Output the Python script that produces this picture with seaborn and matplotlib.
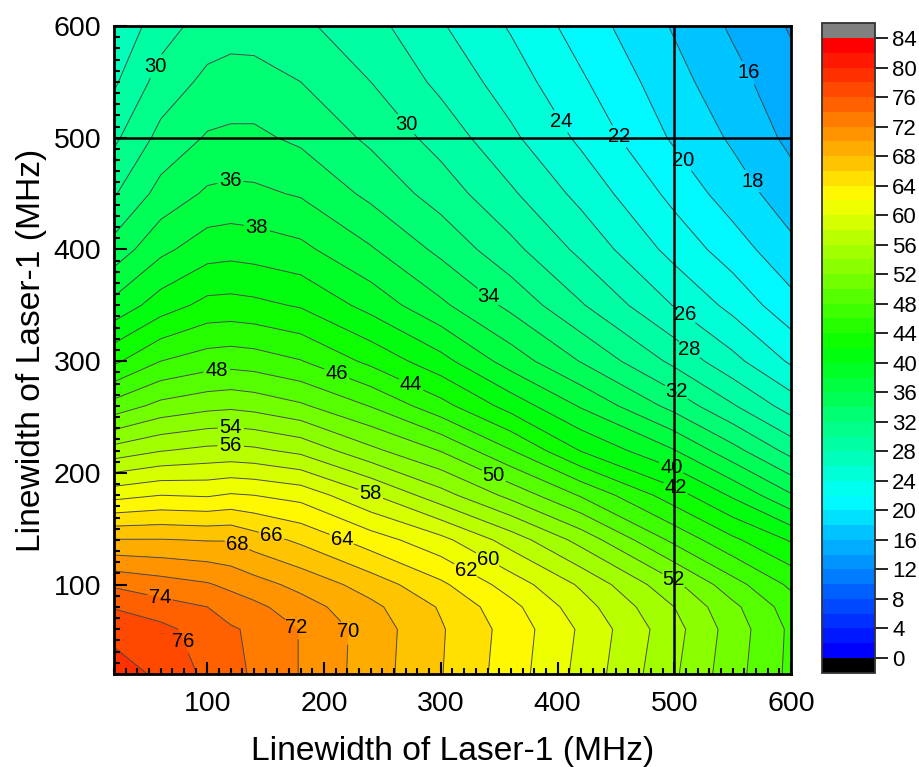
import numpy as np
import matplotlib
matplotlib.use("Agg")
import matplotlib.pyplot as plt
from matplotlib.colors import ListedColormap, BoundaryNorm
from matplotlib.ticker import MultipleLocator
import seaborn as sns

# linewidths (MHz)
x_mhz = [20, 60, 100, 120, 140, 180, 240, 300, 360, 420, 500, 550, 600]
y_mhz = [20, 60, 80, 100, 140, 180, 220, 260, 300, 350, 400, 450, 500, 550, 600]

# one row per y_mhz value
row_020 = [79.5, 77.4, 75.6, 74.7, 73.7, 71.9, 69.0, 66.1, 63.0, 59.4, 54.3, 50.8, 47.5]
row_060 = [77.0, 76.6, 75.0, 74.2, 73.7, 71.9, 69.1, 66.2, 63.2, 59.7, 54.7, 51.1, 47.6]
row_080 = [75.9, 74.8, 74.0, 73.2, 72.5, 70.9, 68.5, 65.8, 62.6, 58.9, 54.0, 50.5, 47.0]
row_100 = [73.7, 72.9, 72.2, 71.5, 70.8, 69.4, 67.1, 64.4, 61.1, 57.7, 52.5, 48.8, 45.6]
row_140 = [68.1, 68.1, 67.9, 67.9, 67.0, 65.6, 63.0, 60.6, 57.1, 53.3, 47.5, 44.4, 41.8]
row_180 = [61.3, 62.0, 61.8, 62.2, 62.0, 61.3, 58.2, 54.8, 51.4, 47.8, 42.9, 39.7, 36.2]
row_220 = [54.8, 55.9, 56.5, 56.6, 56.4, 55.5, 52.5, 49.9, 46.1, 41.9, 38.1, 34.7, 31.3]
row_260 = [48.8, 50.6, 51.4, 51.6, 51.3, 50.3, 47.9, 44.7, 41.2, 37.8, 33.3, 30.2, 27.1]
row_300 = [43.6, 46.0, 47.0, 47.2, 47.0, 46.1, 43.5, 40.7, 37.1, 33.9, 29.5, 26.6, 23.7]
row_350 = [38.6, 41.0, 42.6, 42.7, 42.5, 41.8, 39.3, 36.4, 33.5, 30.2, 25.9, 23.4, 20.7]
row_400 = [34.8, 37.5, 39.1, 39.3, 39.1, 38.5, 36.2, 33.5, 30.6, 27.5, 23.3, 21.0, 18.5]
row_450 = [31.8, 34.7, 36.3, 36.5, 36.4, 35.8, 33.5, 31.1, 28.3, 25.4, 21.4, 19.0, 16.9]
row_500 = [29.6, 32.6, 34.2, 34.4, 34.4, 33.6, 31.6, 29.2, 26.4, 23.6, 19.7, 17.7, 15.5]
row_550 = [27.7, 30.8, 32.5, 32.8, 32.8, 32.0, 30.0, 27.5, 25.0, 22.3, 18.7, 16.7, 14.7]
row_600 = [26.3, 29.1, 30.9, 31.2, 31.1, 30.4, 28.7, 26.2, 23.8, 21.1, 17.8, 15.7, 13.8]

# where the contour labels sit: level -> (x, y) in MHz
label_spots = {
    16: [(569, 561)], 18: [(565, 460)], 20: [(508, 480)], 22: [(451, 500)],
    24: [(400, 513)], 26: [(508, 340)], 28: [(512, 309)],
    30: [(56, 564), (269, 511)], 32: [(501, 271)], 34: [(340, 357)],
    36: [(120, 460)], 38: [(142, 418)], 40: [(500, 212)], 42: [(501, 186)],
    44: [(275, 280)], 46: [(211, 289)], 48: [(108, 291)], 50: [(346, 199)],
    52: [(501, 107)], 54: [(120, 240)], 56: [(120, 225)], 58: [(240, 182)],
    60: [(342, 126)], 62: [(322, 114)], 64: [(216, 143)], 66: [(155, 144)],
    68: [(125, 135)], 70: [(220, 58)], 72: [(173, 58)], 74: [(60, 92)],
    76: [(81, 50)],
}
line_at = 500
axis_label = "Linewidth of Laser-1 (MHz)"

sns.set_theme(style="ticks")
plt.rcParams["font.family"] = ["Liberation Sans", "DejaVu Sans"]

z = np.array([row_020, row_060, row_080, row_100, row_140, row_180, row_220, row_260,
              row_300, row_350, row_400, row_450, row_500, row_550, row_600])
levels = np.arange(0, 86, 2)

colors = sns.blend_palette(["#0000ff", "#00ffff", "#00ff00", "#ffff00", "#ff0000"], n_colors=42)
cmap = ListedColormap(colors)
cmap.set_under("#000000")
cmap.set_over("#808080")
norm = BoundaryNorm(levels, cmap.N)

W, H = 920, 767
fig = plt.figure(figsize=(W / 100, H / 100), dpi=100)
ax = fig.add_axes([114 / W, 1 - 674 / H, (791 - 114) / W, (674 - 26) / H])
cax = fig.add_axes([822 / W, 1 - 673 / H, (875 - 822) / W, (673 - 23) / H])

filled = ax.contourf(x_mhz, y_mhz, z, levels=levels, cmap=cmap, norm=norm,
                     extend="both", antialiased=False)

for lev in levels[5:40]:
    cs = ax.contour(x_mhz, y_mhz, z, levels=[lev], colors="#4a4a4a", linewidths=0.7)
    if int(lev) in label_spots:
        ax.clabel(cs, fmt="%d", fontsize=14.5, colors="black", inline=True, inline_spacing=2,
                  manual=label_spots[int(lev)])
        for t in cs.labelTexts:
            t.set_rotation(0)

ax.axvline(line_at, color="black", lw=1.8)
ax.axhline(line_at, color="black", lw=1.8)

ax.set_xlim(20, 600)
ax.set_ylim(20, 600)
ax.set_axisbelow(False)
ax.xaxis.set_major_locator(MultipleLocator(100))
ax.yaxis.set_major_locator(MultipleLocator(100))
ax.xaxis.set_minor_locator(MultipleLocator(10))
ax.yaxis.set_minor_locator(MultipleLocator(10))
ax.tick_params(which="major", direction="in", length=9, width=1.5, labelsize=20.5, color="black",
               labelcolor="black", pad=12)
ax.tick_params(axis="y", which="major", pad=9)
ax.tick_params(which="minor", direction="in", length=4.3, width=1.5, color="black")
ax.set_xlabel(axis_label, fontsize=24.2, color="black", labelpad=14)
ax.set_ylabel(axis_label, fontsize=24.2, color="black", labelpad=5)
for s in ax.spines.values():
    s.set_linewidth(2)
    s.set_color("black")
    s.set_zorder(10)

cbar = fig.colorbar(filled, cax=cax, extend="both", extendrect=True, extendfrac=15 / 620,
                    ticks=np.arange(0, 88, 4), drawedges=False)
cbar.ax.minorticks_off()
cbar.ax.tick_params(which="major", direction="out", length=9.5, width=1.2, labelsize=16,
                    color="black", labelcolor="black", pad=3)
cbar.outline.set_linewidth(1.3)
cbar.outline.set_edgecolor("#333333")

fig.savefig("out.png", dpi=100)
